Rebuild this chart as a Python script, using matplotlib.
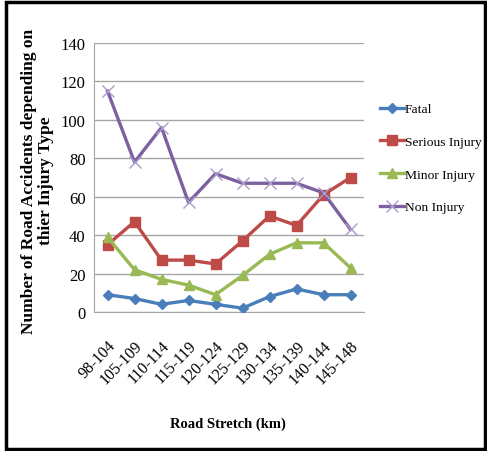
import matplotlib
matplotlib.use("Agg")
import matplotlib.pyplot as plt
from matplotlib.patches import Rectangle

stretches = ["98-104", "105-109", "110-114", "115-119", "120-124",
             "125-129", "130-134", "135-139", "140-144", "145-148"]
fatal = [9, 7, 4, 6, 4, 2, 8, 12, 9, 9]
serious = [35, 47, 27, 27, 25, 37, 50, 45, 61, 70]
minor = [39, 22, 17, 14, 9, 19, 30, 36, 36, 23]
non_injury = [115, 78, 96, 57, 72, 67, 67, 67, 62, 43]

series = [
    ("Fatal", fatal, "#4A7EBB", "D", 5.5, "#4A7EBB"),
    ("Serious Injury", serious, "#BE4B48", "s", 7, "#BE4B48"),
    ("Minor Injury", minor, "#98B954", "^", 7.5, "#98B954"),
    ("Non Injury", non_injury, "#7D60A0", "x", 8, "#A99BCB"),
]

plt.rcParams["font.family"] = ["Liberation Serif", "DejaVu Serif"]

W, H = 487, 452
fig = plt.figure(figsize=(W / 100, H / 100), dpi=100)
ax = fig.add_axes([94 / W, 1 - 313 / H, (364 - 94) / W, (313 - 44) / H])

x = list(range(len(stretches)))
handles = []
for name, vals, color, marker, ms, mcolor in series:
    if marker == "x":
        h, = ax.plot(x, vals, color=color, lw=2.4, marker=marker, ms=ms,
                     mec=mcolor, mew=1.0, label=name, zorder=3)
    else:
        h, = ax.plot(x, vals, color=color, lw=2.4, marker=marker, ms=ms,
                     mec=mcolor, mfc=mcolor, label=name, zorder=3)
    handles.append(h)

ax.set_xlim(-0.5, len(stretches) - 0.5)
ax.set_ylim(0, 140)
ax.set_yticks(range(0, 141, 20))
ax.set_xticks(x)
ax.set_xticklabels(stretches, rotation=46, ha="right", rotation_mode="anchor",
                   fontsize=11.5)
ax.tick_params(axis="y", labelsize=12, length=0, pad=6)
ax.tick_params(axis="x", length=0, pad=18)
ax.yaxis.grid(True, color="#A6A6A6", lw=1.0)
ax.set_axisbelow(True)
for side in ["top", "right"]:
    ax.spines[side].set_visible(False)
ax.spines["left"].set_color("#A6A6A6")
ax.spines["bottom"].set_color("#A6A6A6")

fig.text(37.5 / W, 1 - 181 / H,
         "Number of Road Accidents depending on\nthier Injury Type",
         rotation=90, ha="center", va="center", fontsize=12.5,
         fontweight="bold", linespacing=1.15)
fig.text(228 / W, 1 - 424 / H, "Road Stretch (km)", ha="center",
         va="center", fontsize=10.5, fontweight="bold")

leg = fig.legend(handles=handles, loc="upper left",
                 bbox_to_anchor=(380 / W, 1 - 104 / H), frameon=False,
                 fontsize=9.7, handlelength=1.75, handletextpad=0.1,
                 labelspacing=1.5, borderaxespad=0, borderpad=0)

fig.patches.append(Rectangle((6 / W, 2 / H), (485 - 6) / W, (449 - 2) / H,
                             transform=fig.transFigure, fill=False,
                             ec="black", lw=2.5))

fig.savefig("out.png", dpi=100)
